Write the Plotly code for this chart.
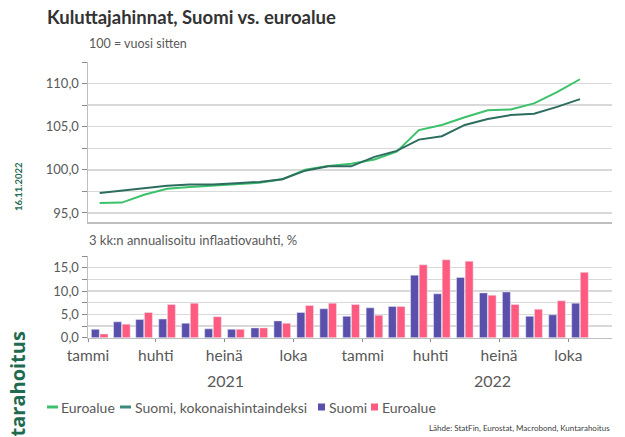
import plotly.graph_objects as go

W, H = 625, 437

months = ["2021-01-01", "2021-02-01", "2021-03-01", "2021-04-01", "2021-05-01", "2021-06-01",
          "2021-07-01", "2021-08-01", "2021-09-01", "2021-10-01", "2021-11-01", "2021-12-01",
          "2022-01-01", "2022-02-01", "2022-03-01", "2022-04-01", "2022-05-01", "2022-06-01",
          "2022-07-01", "2022-08-01", "2022-09-01", "2022-10-01"]

# Price index, 100 = a year ago
euro_index = [96.15, 96.2, 97.1, 97.8, 98.0, 98.15, 98.3, 98.5, 98.9, 100.0, 100.45,
              100.7, 101.2, 102.1, 104.6, 105.2, 106.1, 106.9, 107.0, 107.7, 109.0, 110.5]
fin_index = [97.3, 97.6, 97.85, 98.15, 98.3, 98.3, 98.45, 98.6, 98.9, 99.9, 100.4,
             100.4, 101.5, 102.2, 103.5, 103.9, 105.2, 105.9, 106.35, 106.5, 107.3, 108.2]

# 3-month annualised inflation, %
fin_infl = [1.8, 3.4, 3.9, 4.0, 3.1, 1.9, 1.8, 2.1, 3.6, 5.4, 6.2,
            4.6, 6.4, 6.7, 13.4, 9.4, 12.9, 9.6, 9.8, 4.6, 4.9, 7.4]
euro_infl = [0.8, 2.9, 5.4, 7.1, 7.4, 4.5, 1.8, 2.1, 3.1, 6.9, 7.4,
             7.1, 4.8, 6.7, 15.6, 16.7, 16.4, 9.1, 7.1, 6.1, 7.9, 14.0]

tick_vals = ["2021-01-01", "2021-04-01", "2021-07-01", "2021-10-01",
             "2022-01-01", "2022-04-01", "2022-07-01", "2022-10-01"]
tick_text = ["tammi", "huhti", "heinä", "loka", "tammi", "huhti", "heinä", "loka"]
years = ["2021", "2022"]

C_EURO_LINE = "#3cc16b"
C_FIN_LINE = "#2d6d60"
C_FIN_BAR = "#5a4fab"
C_EURO_BAR = "#ff5a7f"
GRID = "#d9d9d9"
TXT = "#595959"
FONT = "Lato"

def px(x):
    return x / W

def py(y):
    return 1 - y / H

fig = go.Figure()
fig.add_trace(go.Scatter(x=months, y=euro_index, mode="lines", name="Euroalue",
                         line=dict(color=C_EURO_LINE, width=2),
                         xperiod="M1", xperiodalignment="middle", xaxis="x", yaxis="y"))
fig.add_trace(go.Scatter(x=months, y=fin_index, mode="lines", name="Suomi, kokonaishintaindeksi",
                         line=dict(color=C_FIN_LINE, width=2),
                         xperiod="M1", xperiodalignment="middle", xaxis="x", yaxis="y"))
fig.add_trace(go.Bar(x=months, y=fin_infl, name="Suomi", marker_color=C_FIN_BAR,
                     xperiod="M1", xperiodalignment="middle", xaxis="x2", yaxis="y2"))
fig.add_trace(go.Bar(x=months, y=euro_infl, name="Euroalue", marker_color=C_EURO_BAR,
                     xperiod="M1", xperiodalignment="middle", xaxis="x2", yaxis="y2"))

xrange = ["2021-01-01", "2022-11-28"]
xdom = [px(88), px(612)]

common_x = dict(type="date", range=xrange, domain=xdom, showgrid=False, zeroline=False,
                showline=True, linecolor="#bfbfbf", linewidth=1.5, fixedrange=True,
                automargin=False)
common_y = dict(tickformat=".1f", showgrid=True, gridcolor=GRID, gridwidth=1.5,
                minor=dict(dtick=2.5, tick0=0, showgrid=True, gridcolor=GRID, gridwidth=1.5,
                           ticks="outside", ticklen=5, tickcolor="#8c8c8c"),
                ticks="outside", ticklen=5, tickcolor="#8c8c8c",
                showline=True, linecolor="#bfbfbf", linewidth=1.5, zeroline=False,
                tickfont=dict(size=13, color=TXT), fixedrange=True, automargin=False)
fig.update_layout(
    width=W, height=H,
    margin=dict(l=0, r=0, t=0, b=0),
    paper_bgcolor="white", plot_bgcolor="white",
    font=dict(family=FONT, color=TXT, size=12),
    separators=", ",
    showlegend=False,
    barmode="group", bargap=0.22, bargroupgap=0.08,
    xaxis=dict(anchor="y", showticklabels=False, ticks="", **common_x),
    xaxis2=dict(anchor="y2", matches="x", showticklabels=True, ticks="outside", ticklen=3,
                tickcolor="#8c8c8c", tickvals=tick_vals, ticktext=tick_text,
                tickfont=dict(size=15.5, color=TXT), **common_x),
    yaxis=dict(domain=[py(222), py(62)], anchor="x", range=[93.95, 112.5],
               tickvals=[95, 100, 105, 110], **common_y),
    yaxis2=dict(domain=[py(337.7), py(256)], anchor="x2", range=[0, 17.5],
                tickvals=[0, 5, 10, 15], **common_y),
)

ann = []
ann.append(dict(text="<b>Kuluttajahinnat, Suomi vs. euroalue</b>", x=px(45), y=py(17),
                xanchor="left", yanchor="middle", font=dict(size=18.5, color="#333333")))
ann.append(dict(text="100 = vuosi sitten", x=px(87), y=py(43), xanchor="left", yanchor="middle",
                font=dict(size=12.5, color=TXT)))
ann.append(dict(text="3 kk:n annualisoitu inflaatiovauhti, %", x=px(87), y=py(240),
                xanchor="left", yanchor="middle", font=dict(size=13, color=TXT)))
ann.append(dict(text=years[0], x=px(225), y=py(380), xanchor="center", yanchor="middle",
                font=dict(size=16, color=TXT)))
ann.append(dict(text=years[1], x=px(492), y=py(380), xanchor="center", yanchor="middle",
                font=dict(size=16, color=TXT)))
ann.append(dict(text="<b>16.11.2022</b>", x=px(18), y=py(187), textangle=-90,
                xanchor="center", yanchor="middle", font=dict(size=9.5, color="#1f6b4f")))
ann.append(dict(text="<b>Kuntarahoitus</b>", x=px(17), y=py(404), textangle=-90,
                xanchor="center", yanchor="middle",
                font=dict(size=20, color="#1f6b4f", family="Open Sans", weight="bold")))
ann.append(dict(text="Lähde: StatFin, Eurostat, Macrobond, Kuntarahoitus", x=px(612), y=py(428),
                xanchor="right", yanchor="middle", font=dict(size=8, color="#404040")))

# legend built from annotations
leg_y = py(407)
leg_items = [("line", C_EURO_LINE, "Euroalue", 47, 59),
             ("line", "#3a8a7c", "Suomi, kokonaishintaindeksi", 120, 133),
             ("box", C_FIN_BAR, "Suomi", 318, 327),
             ("box", C_EURO_BAR, "Euroalue", 371, 380)]
shapes = []
for kind, col, label, x0, xt in leg_items:
    if kind == "line":
        shapes.append(dict(type="line", xref="paper", yref="paper", x0=px(x0), x1=px(x0 + 11),
                           y0=leg_y, y1=leg_y, line=dict(color=col, width=3)))
    else:
        shapes.append(dict(type="rect", xref="paper", yref="paper", x0=px(x0), x1=px(x0 + 7),
                           y0=py(410.5), y1=py(403.5), line=dict(width=0), fillcolor=col))
    ann.append(dict(text=label, x=px(xt), y=leg_y,
                    xanchor="left", yanchor="middle", font=dict(size=14, color=TXT)))

for a in ann:
    a.update(xref="paper", yref="paper", showarrow=False)
fig.update_layout(annotations=ann, shapes=shapes)

fig.write_html("out.html", post_script="document.body.style.margin='0';",
               config={"displayModeBar": False, "staticPlot": True})
